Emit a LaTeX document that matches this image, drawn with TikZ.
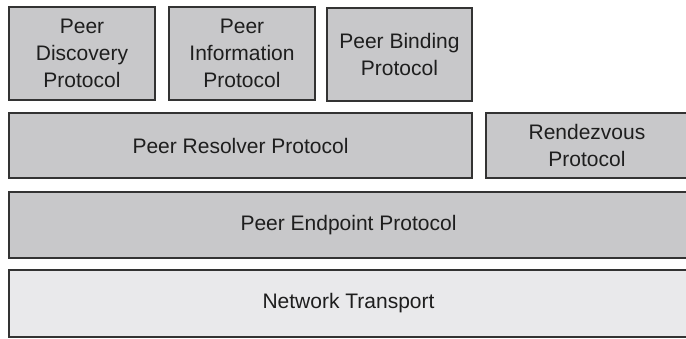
\documentclass[tikz,border=0pt]{standalone}
\usepackage{fontspec}
\setmainfont{Liberation Sans}
\definecolor{boxfill}{HTML}{C8C8CA}
\definecolor{lightfill}{HTML}{E9E9EB}
\definecolor{edge}{HTML}{333333}
\definecolor{txt}{HTML}{1E1E1E}
\begin{document}
\begin{tikzpicture}[x=1pt,y=-1pt,
  layer/.style={draw=edge, line width=1.4pt, fill=boxfill, text=txt,
    align=center, inner sep=0pt,
    font=\fontsize{21}{27}\selectfont},
  light/.style={layer, fill=lightfill}]
\useasboundingbox (0,0) rectangle (686,338);
\node[layer, minimum width=146, minimum height=93] (disc) at (82,53.5) {Peer\\Discovery\\Protocol};
\node[layer, minimum width=146, minimum height=93] (info) at (242,53.5) {Peer\\Information\\Protocol};
\node[layer, minimum width=145, minimum height=93] (bind) at (399.5,54.5) {Peer Binding\\Protocol};
\node[layer, minimum width=463, minimum height=65] (res) at (240.5,145.5) {Peer Resolver Protocol};
\node[layer, minimum width=202, minimum height=65] (rdv) at (587,145.5) {Rendezvous\\Protocol};
\node[layer, minimum width=679, minimum height=66] (endp) at (348.5,225) {Peer Endpoint Protocol};
\node[light, minimum width=679, minimum height=67] (net) at (348.5,303.5) {Network Transport};
\end{tikzpicture}
\end{document}
